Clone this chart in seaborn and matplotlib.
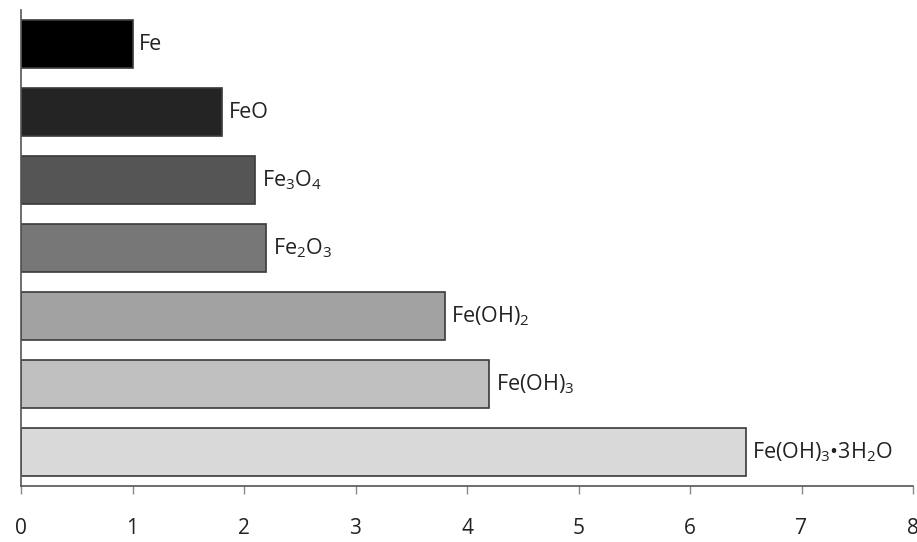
import matplotlib
matplotlib.use("Agg")
import matplotlib.pyplot as plt
import seaborn as sns
import pandas as pd

categories = ["Fe", "FeO", "Fe3O4", "Fe2O3", "Fe(OH)2", "Fe(OH)3", "Fe(OH)3•3H2O"]
labels = ["Fe", "FeO", r"Fe$_3$O$_4$", r"Fe$_2$O$_3$", r"Fe(OH)$_2$", r"Fe(OH)$_3$", r"Fe(OH)$_3$•3H$_2$O"]
values = [1.0, 1.8, 2.1, 2.2, 3.8, 4.2, 6.5]
colors = ["#000000", "#242424", "#555555", "#777777", "#a2a2a2", "#c0c0c0", "#d9d9d9"]
xticks = [0, 1, 2, 3, 4, 5, 6, 7, 8]

sns.set_style("white")
plt.rcParams["font.family"] = ["Open Sans", "DejaVu Sans"]
plt.rcParams["mathtext.fontset"] = "custom"
plt.rcParams["mathtext.rm"] = "Open Sans"
plt.rcParams["mathtext.it"] = "Open Sans"

df = pd.DataFrame({"cat": categories, "val": values})

fig = plt.figure(figsize=(9.17, 5.42), dpi=100)
ax = fig.add_axes([21/917, 1-486/542, (913-21)/917, (486-10)/542])
sns.barplot(data=df, x="val", y="cat", hue="cat", palette=colors, legend=False,
            orient="h", width=0.71, edgecolor="#3a3a3a", linewidth=1.2, ax=ax)

for i, (v, lab) in enumerate(zip(values, labels)):
    ax.text(v + 0.06, i, lab, va="center", ha="left", fontsize=15.5, color="#222222")

ax.set_xlim(0, 8)
ax.set_ylim(6.5, -0.5)
ax.set_xticks(xticks)
ax.set_xticklabels([str(t) for t in xticks], fontsize=15, color="#222222")
ax.set_yticks([])
ax.set_xlabel("")
ax.set_ylabel("")
for s in ["top", "right"]:
    ax.spines[s].set_visible(False)
for s in ["left", "bottom"]:
    ax.spines[s].set_color("#555555")
    ax.spines[s].set_linewidth(1.2)
ax.tick_params(axis="x", direction="out", length=6, width=1, color="#888888", pad=17, bottom=True)

fig.savefig("out.png", dpi=100)
